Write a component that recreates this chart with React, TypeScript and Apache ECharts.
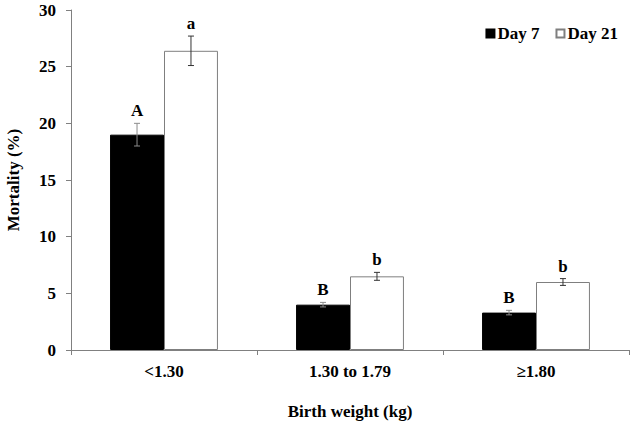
import React, { useEffect, useRef } from "react";
import * as echarts from "echarts";

const categories = ["<1.30", "1.30 to 1.79", "≥1.80"];
const day7 = [19.0, 4.0, 3.3];
const day21 = [26.4, 6.5, 6.0];
const day7Err = [1.0, 0.2, 0.2];
const day21Err = [1.3, 0.35, 0.3];
const day7Letters = ["A", "B", "B"];
const day21Letters = ["a", "b", "b"];
const yTicks = { min: 0, max: 30, interval: 5 };

const FONT = "'Liberation Serif', 'Times New Roman', serif";

export default function App() {
  const ref = useRef<HTMLDivElement>(null);
  useEffect(() => {
    if (!ref.current) return;
    const chart = echarts.init(ref.current, undefined, { renderer: "svg" });

    const makeErr = (vals: number[], errs: number[], letters: string[], side: number, color: string) => ({
      type: "custom",
      silent: true,
      z: 10,
      data: vals.map((v, i) => [i, v, errs[i]]),
      renderItem: (params: any, api: any) => {
        const i = api.value(0);
        const v = api.value(1);
        const e = api.value(2);
        const band = api.size([1, 0])[0];
        const c = api.coord([i, v]);
        const x = c[0] + side * band * 0.145;
        const top = api.coord([i, v + e])[1];
        const bot = api.coord([i, v - e])[1];
        const cap = 3;
        return {
          type: "group",
          children: [
            { type: "line", shape: { x1: x, y1: top, x2: x, y2: bot }, style: { stroke: color, lineWidth: 1 } },
            { type: "line", shape: { x1: x - cap, y1: top, x2: x + cap, y2: top }, style: { stroke: color, lineWidth: 1 } },
            { type: "line", shape: { x1: x - cap, y1: bot, x2: x + cap, y2: bot }, style: { stroke: color, lineWidth: 1 } },
            {
              type: "text",
              style: {
                text: letters[i],
                x: x,
                y: top - 4,
                align: "center",
                verticalAlign: "bottom",
                font: `bold 17px ${FONT}`,
                fill: "#000",
              },
            },
          ],
        };
      },
    });

    chart.setOption({
      animation: false,
      textStyle: { fontFamily: FONT },
      grid: { left: 71, right: 6, top: 10, bottom: 71, containLabel: false, outerBoundsMode: "none" },
      legend: {
        right: 12,
        top: 20,
        itemWidth: 8,
        itemHeight: 8,
        itemGap: 16,
        icon: "rect",
        data: ["Day 7", "Day 21"],
        textStyle: { fontFamily: FONT, fontWeight: "bold", fontSize: 17, color: "#000", padding: [0, 0, 0, -2] },
      },
      xAxis: {
        type: "category",
        data: categories,
        name: "Birth weight (kg)",
        nameLocation: "middle",
        nameGap: 53,
        nameTextStyle: { fontFamily: FONT, fontWeight: "bold", fontSize: 17, color: "#000" },
        axisLine: { lineStyle: { color: "#808080", width: 1 } },
        axisTick: { show: true, alignWithLabel: false, length: 5, lineStyle: { color: "#808080" } },
        axisLabel: { fontFamily: FONT, fontWeight: "bold", fontSize: 17, color: "#000", margin: 13 },
        splitLine: { show: false },
      },
      yAxis: {
        type: "value",
        min: yTicks.min,
        max: yTicks.max,
        interval: yTicks.interval,
        name: "Mortality (%)",
        nameLocation: "middle",
        nameGap: 49,
        nameTextStyle: { fontFamily: FONT, fontWeight: "bold", fontSize: 17, color: "#000" },
        axisLine: { show: true, lineStyle: { color: "#808080", width: 1 } },
        axisTick: { show: true, inside: false, length: 5, lineStyle: { color: "#808080" } },
        axisLabel: { fontFamily: FONT, fontWeight: "bold", fontSize: 17, color: "#000", margin: 15 },
        splitLine: { show: false },
      },
      series: [
        {
          name: "Day 7",
          type: "bar",
          data: day7,
          barGap: "0%",
          barCategoryGap: "42%",
          itemStyle: { color: "#000", borderColor: "#000", borderWidth: 1 },
        },
        {
          name: "Day 21",
          type: "bar",
          data: day21,
          barGap: "0%",
          barCategoryGap: "42%",
          itemStyle: { color: "#fff", borderColor: "#7f7f7f", borderWidth: 1 },
        },
        makeErr(day7, day7Err, day7Letters, -1, "#8c8c8c"),
        makeErr(day21, day21Err, day21Letters, 1, "#333"),
      ],
    });
    return () => chart.dispose();
  }, []);
  return <div ref={ref} style={{ width: 635, height: 421, position: "absolute", left: 0, top: 0, background: "#fff" }} />;
}
